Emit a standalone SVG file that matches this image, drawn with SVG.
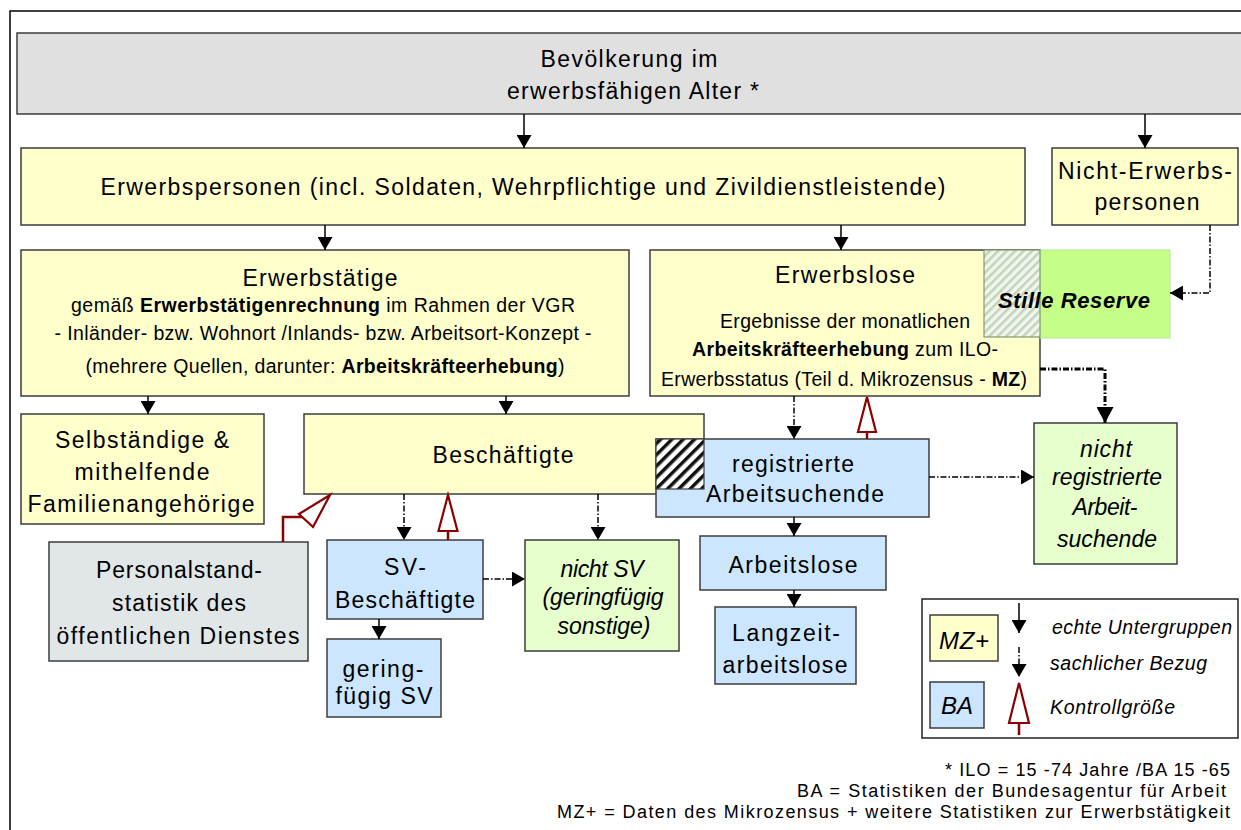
<svg xmlns="http://www.w3.org/2000/svg" width="1241" height="830" viewBox="0 0 1241 830">
<style>
.box{stroke:#3c3c3c;stroke-width:1.5}
.gr{fill:#e0e0e0}
.y{fill:#ffffcc}
.b{fill:#cce6ff}
.g{fill:#e6ffcc}
.p{fill:#e1e7e9}
.t{font-family:"Liberation Sans",Arial,sans-serif;font-size:23px;text-anchor:middle;fill:#000}
.s{font-size:19.5px}
.sr{font-size:22px}
.lg{font-size:24px}
.lt{font-size:19.5px}
.fn{font-size:18px}
.i{font-style:italic}
.bd{font-weight:bold}
.l{text-anchor:start}
.e{text-anchor:end}
.ln{stroke:#000;stroke-width:1.5;fill:none}
.dd{stroke-dasharray:6 2 1.5 2}
.thick{stroke-width:3}
.red{stroke:#8b0000;stroke-width:2.2;fill:#fff}
.redl{stroke:#8b0000;stroke-width:2.5;fill:none}
</style>
<defs>
<marker id="ah" viewBox="0 0 13 15" refX="13" refY="7.5" markerWidth="13" markerHeight="15" markerUnits="userSpaceOnUse" orient="auto">
<path d="M0,0 L13,7.5 L0,15 z" fill="#000"/>
</marker>
<marker id="ahb" viewBox="0 0 16 17" refX="16" refY="8.5" markerWidth="16" markerHeight="17" markerUnits="userSpaceOnUse" orient="auto">
<path d="M0,0 L16,8.5 L0,17 z" fill="#000"/>
</marker>
<pattern id="hatchK" patternUnits="userSpaceOnUse" width="8" height="8" patternTransform="rotate(45)">
<rect width="8" height="8" fill="#fff"/>
<rect width="3.5" height="8" fill="#111"/>
</pattern>
<pattern id="hatchG" patternUnits="userSpaceOnUse" width="6" height="6" patternTransform="rotate(45)">
<rect width="6" height="6" fill="#f1f6ec"/>
<rect width="2.5" height="6" fill="#c3d2bb"/>
</pattern>
</defs>

<g id="frame">
<path d="M10,830 L10,11 L1241,11" fill="none" stroke="#000" stroke-width="1.5"/>
</g>

<g id="n-bevoelkerung">
<rect class="box gr" x="17" y="33" width="1240" height="81"/>
<text class="t" x="629" y="67" textLength="177" lengthAdjust="spacing">Bevölkerung im</text>
<text class="t" x="633" y="99" textLength="252" lengthAdjust="spacing">erwerbsfähigen Alter *</text>
</g>

<g id="n-erwerbspersonen">
<rect class="box y" x="21" y="148" width="1004" height="77"/>
<text class="t" x="523" y="195" textLength="845" lengthAdjust="spacing">Erwerbspersonen (incl. Soldaten, Wehrpflichtige und Zivildienstleistende)</text>
</g>

<g id="n-nichterwerbs">
<rect class="box y" x="1052" y="148" width="186" height="77"/>
<text class="t" x="1145" y="179" textLength="174" lengthAdjust="spacing">Nicht-Erwerbs-</text>
<text class="t" x="1147" y="210" textLength="105" lengthAdjust="spacing">personen</text>
</g>

<g id="n-erwerbstaetige">
<rect class="box y" x="21" y="250" width="608" height="146"/>
<text class="t" x="320" y="286" textLength="155" lengthAdjust="spacing">Erwerbstätige</text>
<text class="t s" x="323" y="312" textLength="504" lengthAdjust="spacing">gemäß <tspan class="bd">Erwerbstätigenrechnung</tspan> im Rahmen der VGR</text>
<text class="t s" x="323" y="340" textLength="537" lengthAdjust="spacing">- Inländer- bzw. Wohnort /Inlands- bzw. Arbeitsort-Konzept -</text>
<text class="t s" x="325" y="373" textLength="479" lengthAdjust="spacing">(mehrere Quellen, darunter: <tspan class="bd">Arbeitskräfteerhebung</tspan>)</text>
</g>

<g id="n-erwerbslose">
<rect class="box y" x="650" y="250" width="390" height="146"/>
<text class="t" x="845" y="283" textLength="140" lengthAdjust="spacing">Erwerbslose</text>
<text class="t s" x="845" y="328" textLength="250" lengthAdjust="spacing">Ergebnisse der monatlichen</text>
<text class="t s" x="845" y="356" textLength="306" lengthAdjust="spacing"><tspan class="bd">Arbeitskräfteerhebung</tspan> zum ILO-</text>
<text class="t s" x="844" y="386" textLength="366" lengthAdjust="spacing">Erwerbsstatus (Teil d. Mikrozensus - <tspan class="bd">MZ</tspan>)</text>
</g>

<g id="n-stillereserve">
<rect x="1040" y="250" width="130" height="88" fill="#c6ff88" stroke="#b8e890" stroke-width="1"/>
<rect x="984" y="250" width="56" height="87" fill="url(#hatchG)" stroke="#7f9c70" stroke-width="1.2"/>
<text class="t i bd sr" x="1074" y="308" textLength="152" lengthAdjust="spacing">Stille Reserve</text>
</g>

<g id="n-selbstaendige">
<rect class="box y" x="21" y="414" width="243" height="110"/>
<text class="t" x="142" y="448" textLength="174" lengthAdjust="spacing">Selbständige &amp;</text>
<text class="t" x="142" y="480" textLength="135" lengthAdjust="spacing">mithelfende</text>
<text class="t" x="141" y="512" textLength="227" lengthAdjust="spacing">Familienangehörige</text>
</g>

<g id="n-beschaeftigte">
<rect class="box y" x="304" y="414" width="400" height="80"/>
<text class="t" x="503" y="463" textLength="141" lengthAdjust="spacing">Beschäftigte</text>
</g>

<g id="n-registrierte">
<rect class="box b" x="656" y="439" width="273" height="78"/>
<rect x="656" y="439" width="48" height="50" fill="url(#hatchK)" stroke="#3c3c3c" stroke-width="1.2"/>
<text class="t" x="793" y="472" textLength="122" lengthAdjust="spacing">registrierte</text>
<text class="t" x="795" y="502" textLength="178" lengthAdjust="spacing">Arbeitsuchende</text>
</g>

<g id="n-nichtregistriert">
<rect class="box g" x="1034" y="423" width="143" height="141"/>
<text class="t i" x="1106" y="457" textLength="52" lengthAdjust="spacing">nicht</text>
<text class="t i" x="1107" y="485" textLength="110" lengthAdjust="spacing">registrierte</text>
<text class="t i" x="1105" y="515" textLength="65" lengthAdjust="spacing">Arbeit-</text>
<text class="t i" x="1107" y="547" textLength="100" lengthAdjust="spacing">suchende</text>
</g>

<g id="n-personalstand">
<rect class="box p" x="49" y="542" width="259" height="119"/>
<text class="t" x="179" y="578" textLength="166" lengthAdjust="spacing">Personalstand-</text>
<text class="t" x="179" y="611" textLength="134" lengthAdjust="spacing">statistik des</text>
<text class="t" x="178" y="644" textLength="243" lengthAdjust="spacing">öffentlichen Dienstes</text>
</g>

<g id="n-sv">
<rect class="box b" x="327" y="540" width="156" height="79"/>
<text class="t" x="405" y="575" textLength="42" lengthAdjust="spacing">SV-</text>
<text class="t" x="405" y="608" textLength="140" lengthAdjust="spacing">Beschäftigte</text>
</g>

<g id="n-nichtsv">
<rect class="box g" x="525" y="540" width="154" height="111"/>
<text class="t i" x="602" y="577" textLength="83" lengthAdjust="spacing">nicht SV</text>
<text class="t i" x="603" y="605" textLength="121" lengthAdjust="spacing">(geringfügig</text>
<text class="t i" x="604" y="634" textLength="93" lengthAdjust="spacing">sonstige)</text>
</g>

<g id="n-geringfuegig">
<rect class="box b" x="327" y="639" width="114" height="78"/>
<text class="t" x="383" y="677" textLength="81" lengthAdjust="spacing">gering-</text>
<text class="t" x="384" y="704" textLength="97" lengthAdjust="spacing">fügig SV</text>
</g>

<g id="n-arbeitslose">
<rect class="box b" x="700" y="536" width="186" height="54"/>
<text class="t" x="793" y="573" textLength="129" lengthAdjust="spacing">Arbeitslose</text>
</g>

<g id="n-langzeit">
<rect class="box b" x="715" y="607" width="141" height="77"/>
<text class="t" x="786" y="641" textLength="108" lengthAdjust="spacing">Langzeit-</text>
<text class="t" x="785" y="673" textLength="125" lengthAdjust="spacing">arbeitslose</text>
</g>

<g id="connectors">
<line class="ln" x1="524" y1="114" x2="524" y2="148" marker-end="url(#ah)"/>
<line class="ln" x1="1145" y1="114" x2="1145" y2="148" marker-end="url(#ah)"/>
<line class="ln" x1="325" y1="225" x2="325" y2="250" marker-end="url(#ah)"/>
<line class="ln" x1="841" y1="225" x2="841" y2="250" marker-end="url(#ah)"/>
<line class="ln" x1="148" y1="396" x2="148" y2="414" marker-end="url(#ah)"/>
<line class="ln" x1="506" y1="396" x2="506" y2="414" marker-end="url(#ah)"/>
<path class="ln dd" d="M1210,225 L1210,293 L1170,293" marker-end="url(#ah)"/>
<path class="ln dd thick" d="M1040,369 L1105,369 L1105,423" marker-end="url(#ahb)"/>
<line class="ln dd" x1="794" y1="396" x2="794" y2="439" marker-end="url(#ah)"/>
<line class="ln dd" x1="929" y1="477" x2="1034" y2="477" marker-end="url(#ah)"/>
<line class="ln" x1="794" y1="517" x2="794" y2="536" marker-end="url(#ah)"/>
<line class="ln" x1="794" y1="590" x2="794" y2="607" marker-end="url(#ah)"/>
<line class="ln dd" x1="404" y1="494" x2="404" y2="540" marker-end="url(#ah)"/>
<line class="ln dd" x1="598" y1="494" x2="598" y2="540" marker-end="url(#ah)"/>
<line class="ln dd" x1="483" y1="579" x2="525" y2="579" marker-end="url(#ah)"/>
<line class="ln" x1="379" y1="619" x2="379" y2="639" marker-end="url(#ah)"/>
<line class="redl" x1="448" y1="531" x2="448" y2="540"/>
<polygon class="red" points="448,495 438.5,531 457.5,531"/>
<line class="redl" x1="867" y1="432" x2="867" y2="439"/>
<polygon class="red" points="867,397 858,432 876,432"/>
<polyline class="redl" points="283,542 283,517 304,517"/>
<polygon class="red" points="330,495 299,514 313,527"/>
</g>

<g id="legend">
<rect x="922" y="599" width="316" height="139" fill="#fff" stroke="#222" stroke-width="1.5"/>
<rect class="box y" x="930" y="615" width="68" height="46"/>
<text class="t i lg" x="964" y="649" textLength="50" lengthAdjust="spacing">MZ+</text>
<rect class="box b" x="930" y="682" width="54" height="46"/>
<text class="t i lg" x="957" y="714" textLength="32" lengthAdjust="spacing">BA</text>
<line class="ln" x1="1019" y1="603" x2="1019" y2="633" marker-end="url(#ah)"/>
<line class="ln dd" x1="1019" y1="647" x2="1019" y2="677" marker-end="url(#ah)"/>
<line class="redl" x1="1019" y1="723" x2="1019" y2="735"/>
<polygon class="red" points="1019,683 1009,723 1029,723"/>
<text class="t i l lt" x="1052" y="634" textLength="180" lengthAdjust="spacing">echte Untergruppen</text>
<text class="t i l lt" x="1050" y="670" textLength="157" lengthAdjust="spacing">sachlicher Bezug</text>
<text class="t i l lt" x="1050" y="714" textLength="125" lengthAdjust="spacing">Kontrollgröße</text>
</g>

<g id="footnotes">
<text class="t e fn" x="1230" y="776" textLength="285" lengthAdjust="spacing">* ILO = 15 -74 Jahre /BA 15 -65</text>
<text class="t e fn" x="1226" y="797" textLength="429" lengthAdjust="spacing">BA = Statistiken der Bundesagentur für Arbeit</text>
<text class="t e fn" x="1230" y="818" textLength="673" lengthAdjust="spacing">MZ+ = Daten des Mikrozensus + weitere Statistiken zur Erwerbstätigkeit</text>
</g>
</svg>
